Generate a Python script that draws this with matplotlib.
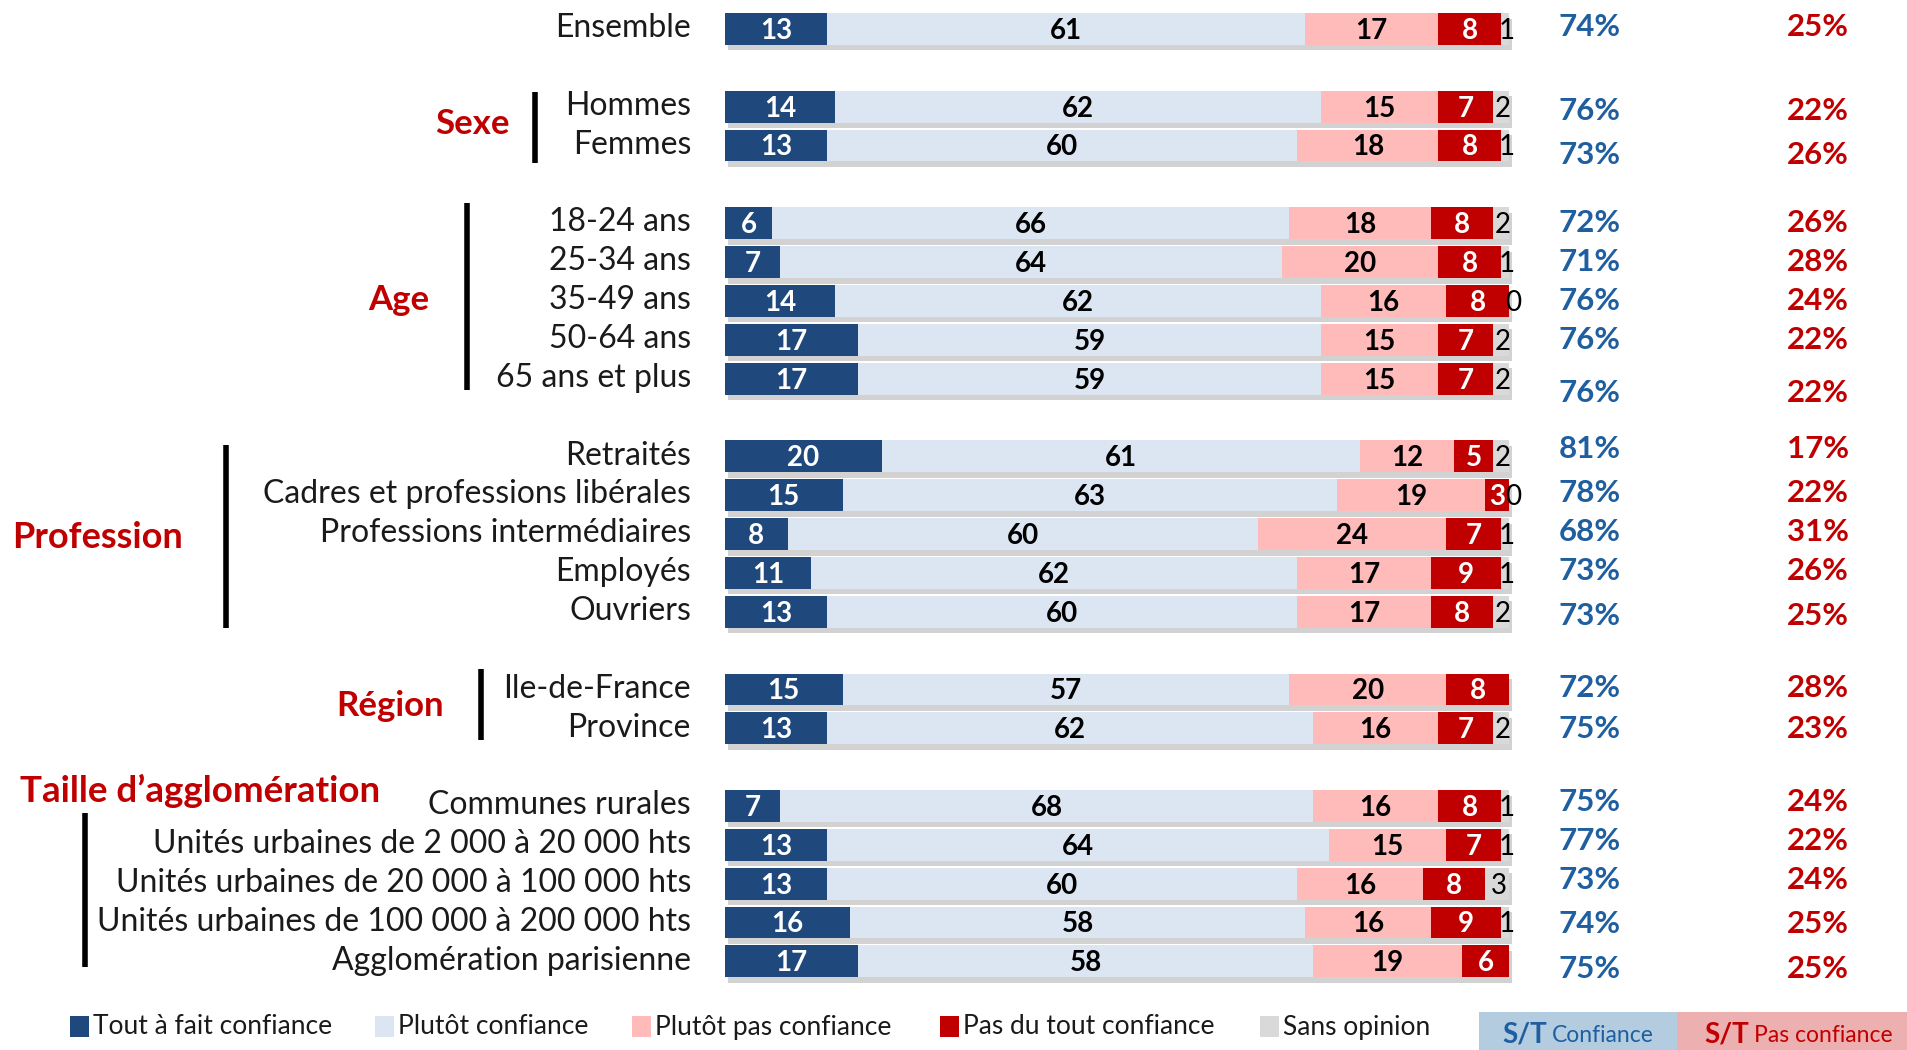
import numpy as np
import matplotlib
matplotlib.use("Agg")
import matplotlib.pyplot as plt
from matplotlib.patches import Rectangle
import matplotlib.patheffects as pe

plt.rcParams['font.family'] = ['Lato', 'DejaVu Sans']

categories = ["Ensemble", "Hommes", "Femmes", "18-24 ans", "25-34 ans", "35-49 ans",
              "50-64 ans", "65 ans et plus", "Retraités", "Cadres et professions libérales",
              "Professions intermédiaires", "Employés", "Ouvriers", "Ile-de-France", "Province",
              "Communes rurales", "Unités urbaines de 2 000 à 20 000 hts",
              "Unités urbaines de 20 000 à 100 000 hts", "Unités urbaines de 100 000 à 200 000 hts",
              "Agglomération parisienne"]
row_pos = [0, 2, 3, 5, 6, 7, 8, 9, 11, 12, 13, 14, 15, 17, 18, 20, 21, 22, 23, 24]

tout_a_fait = [13, 14, 13, 6, 7, 14, 17, 17, 20, 15, 8, 11, 13, 15, 13, 7, 13, 13, 16, 17]
plutot = [61, 62, 60, 66, 64, 62, 59, 59, 61, 63, 60, 62, 60, 57, 62, 68, 64, 60, 58, 58]
plutot_pas = [17, 15, 18, 18, 20, 16, 15, 15, 12, 19, 24, 17, 17, 20, 16, 16, 15, 16, 16, 19]
pas_du_tout = [8, 7, 8, 8, 8, 8, 7, 7, 5, 3, 7, 9, 8, 8, 7, 8, 7, 8, 9, 6]
sans_opinion = [1, 2, 1, 2, 1, 0, 2, 2, 2, 0, 1, 1, 2, None, 2, 1, 1, 3, 1, None]

st_confiance = [74, 76, 73, 72, 71, 76, 76, 76, 81, 78, 68, 73, 73, 72, 75, 75, 77, 73, 74, 75]
st_pas_confiance = [25, 22, 26, 26, 28, 24, 22, 22, 17, 22, 31, 26, 25, 28, 23, 24, 22, 24, 25, 25]
pct_offset = [-0.05, 0.1, 0.25, 0, 0, 0, 0, 0.37, -0.2, -0.05, -0.05, -0.05, 0.12, -0.03, 0.03, -0.1, -0.1, -0.1, 0.05, 0.2]

series_names = ["Tout à fait confiance", "Plutôt confiance", "Plutôt pas confiance",
                "Pas du tout confiance", "Sans opinion"]
colors = ["#1F497D", "#DCE6F2", "#FFBABA", "#C00000", "#D9D9D9"]
text_colors = ["white", "black", "black", "white", "black"]

groups = ["Sexe", "Age", "Profession", "Région", "Taille d\u2019agglomération"]

W, H = 1908, 1050
X0, PXU = 725.0, 7.84
Y0, PXR = 29.0, 38.85


def fx(px):
    return (px - X0) / PXU


def fy(py):
    return (py - Y0) / PXR


fig = plt.figure(figsize=(W / 100, H / 100), dpi=100)
ax = fig.add_axes([0, 0, 1, 1])
ax.set_xlim(fx(0), fx(W))
ax.set_ylim(fy(H), fy(0))
ax.axis("off")

series = [tout_a_fait, plutot, plutot_pas, pas_du_tout, sans_opinion]
bh = 0.82
shadow = [pe.SimplePatchShadow(offset=(2, -4), alpha=0.35, shadow_rgbFace="#808080"), pe.Normal()]
for i, y in enumerate(row_pos):
    left = 0.0
    for s, vals in enumerate(series):
        v = vals[i]
        if v is None:
            continue
        if v > 0:
            ax.barh(y, v, left=left, height=bh, color=colors[s], edgecolor="none",
                    path_effects=shadow, zorder=2)
        cx = left + v / 2
        if s == 4:
            ax.text(left + max(v, 0.6) / 2 + 0.2, y + 0.05, f"{v}", ha="center", va="center",
                    fontsize=20, color="black", zorder=5)
        else:
            ax.text(cx, y + 0.05, f"{v}", ha="center", va="center", fontsize=20,
                    fontweight="bold", color=text_colors[s], zorder=5)
        left += v
    ax.text(fx(691), y - 0.02, categories[i], ha="right", va="center", fontsize=23, color="#1a1a1a")
    ax.text(fx(1590), y + pct_offset[i], f"{st_confiance[i]}%", ha="center", va="center",
            fontsize=22.5, fontweight="bold", color="#1F5FA0")
    ax.text(fx(1818), y + pct_offset[i], f"{st_pas_confiance[i]}%", ha="center", va="center",
            fontsize=22.5, fontweight="bold", color="#C00000")

# group labels and bracket lines
grp_text = [(472, 124, "center"), (399, 300, "center"), (12, 537, "left"), (390, 706, "center"),
            (20, 791, "left")]
grp_sizes = [25, 25, 26, 25, 26.5]
grp_lines = [(535, 92, 163), (467, 203, 390), (226, 445, 628), (481, 669, 740), (85, 813, 967)]
for name, (tx, ty, ha), fs, (lx, ly0, ly1) in zip(groups, grp_text, grp_sizes, grp_lines):
    ax.text(fx(tx), fy(ty), name, ha=ha, va="center", fontsize=fs, fontweight="bold",
            color="#C00000")
    ax.plot([fx(lx), fx(lx)], [fy(ly0), fy(ly1)], color="black", lw=4, solid_capstyle="butt")

# legend
leg_x = [70, 375, 632, 940, 1260]
ly = 1027
for name, c, lx in zip(series_names, colors, leg_x):
    fig.patches.append(Rectangle((lx / W, 1 - (ly + 10) / H), 19 / W, 21 / H,
                                 transform=fig.transFigure, facecolor=c, edgecolor="none"))
    fig.text((lx + 23) / W, 1 - ly / H, name, ha="left", va="center", fontsize=19, color="#1a1a1a")

# S/T boxes
fig.patches.append(Rectangle((1479 / W, 0), (1677 - 1479) / W, (H - 1012) / H,
                             transform=fig.transFigure, facecolor="#B3CCE0", edgecolor="none"))
fig.patches.append(Rectangle((1677 / W, 0), (W - 1677) / W, (H - 1012) / H,
                             transform=fig.transFigure, facecolor="#EDB0B0", edgecolor="none"))
renderer = fig.canvas.get_renderer()
for (sx, word, col) in [(1502, "Confiance", "#1F5FA0"), (1704, "Pas confiance", "#C00000")]:
    t = fig.text(sx / W, 1 - 1034 / H, "S/T", ha="left", va="center", fontsize=20,
                 fontweight="bold", color=col)
    bb = t.get_window_extent(renderer)
    fig.text((bb.x1 + 5) / W, 1 - 1035 / H, word, ha="left", va="center", fontsize=16.5,
             color=col)

fig.savefig("out.png", dpi=100)
